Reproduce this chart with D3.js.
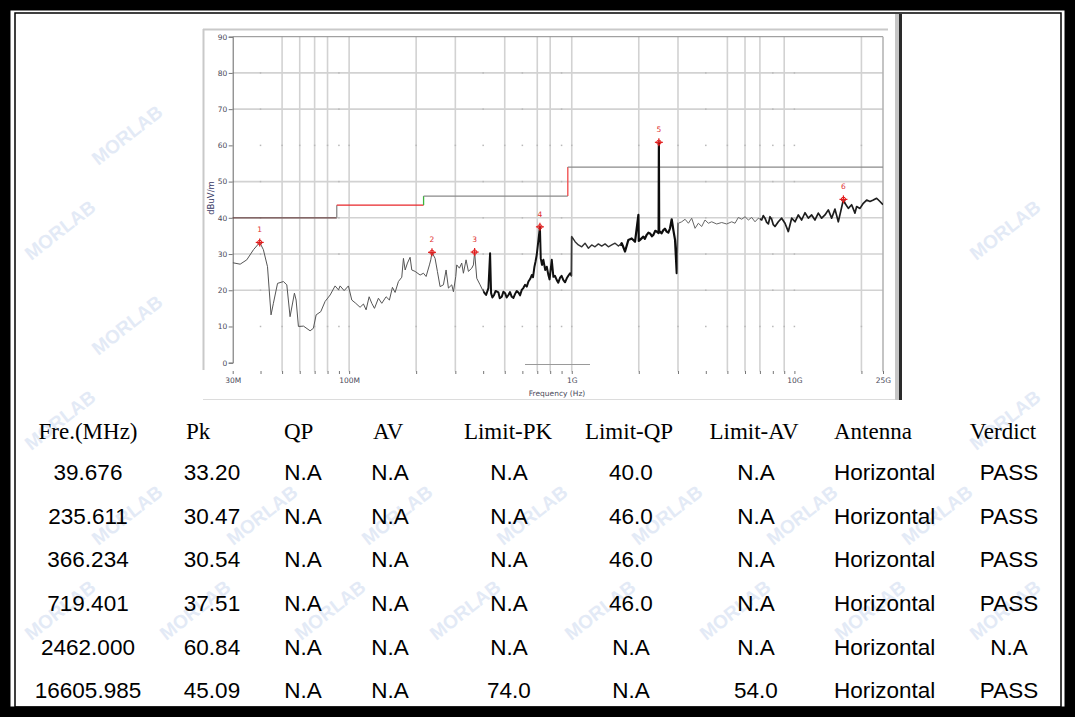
<!DOCTYPE html>
<html lang="en">
<head>
<meta charset="UTF-8">
<title>Radiated Emission 30MHz - 25GHz</title>
<script src="https://d3js.org/d3.v7.min.js"></script>
<style>
  html, body { margin: 0; padding: 0; background: #fff; }
  svg { display: block; }
</style>
</head>
<body>
<svg id="page" width="1075" height="717"></svg>
<script>
// spectrum trace (MHz, dBuV/m)
const traceFreq = [
  30, 32.4, 34.7, 37.2, 39.676, 41.2, 43, 44.6, 45.7, 47.7, 50.7, 52.5, 54.3, 56.8, 57.8, 59.2,
  62.4, 66.8, 69.1, 71.1, 74.6, 78, 82.2, 86.5, 89.6, 91.1, 95, 99.3, 102.8, 107.1, 112, 116,
  119.2, 123, 126.4, 130, 135.4, 140.2, 146.6, 151.7, 156.5, 160.9, 166.5, 172.4, 175.4, 178.5,
  182.8, 187.9, 191.2, 197.9, 208.4, 215.7, 221.7, 229.5, 232.7, 235.611, 243.3, 249.2, 256.2,
  265.2, 272.6, 279.3, 289.1, 294.1, 301.3, 304.4, 312.9, 320.5, 326.1, 335.2, 343.4, 355.5,
  361.7, 366.234, 374.4, 387.5, 401.1, 412.3, 422.3, 429.7, 434.2, 440, 447.9, 455, 468.4, 475,
  484.9, 493, 501.9, 510, 519.5, 528, 537.7, 547, 556.6, 566, 576.1, 586, 596.3, 606, 617.2, 628,
  638.9, 650, 661.3, 670, 679.8, 688, 696.3, 719.401, 725.7, 735, 745.7, 760, 772.2, 785.2, 795,
  813.3, 827, 840, 856.5, 870, 886.2, 900, 917, 933, 949.6, 965, 982.6, 998,
  1001, 1035, 1071, 1109, 1147, 1188, 1229, 1272, 1317, 1363, 1411, 1460, 1512, 1565, 1620,
  1677, 1735, 1796, 1859, 1924, 1992, 2000, 2026, 2097, 2130, 2171, 2210, 2247, 2290, 2326,
  2370, 2407, 2455, 2462, 2470, 2492, 2530, 2579, 2620, 2669, 2715, 2763, 2811, 2860, 2910,
  2961, 2985, 3013, 3118, 3228, 3341, 3457, 3579, 3704, 3834, 3968, 4107, 4251, 4477, 4714,
  4965, 5228, 5412, 5601, 5798, 6001, 6212, 6429, 6655, 6887, 7129, 7250, 7379, 7500, 7637,
  7770, 7905, 8040, 8182, 8469, 8766, 9073, 9391, 9721, 10062, 10414, 10779, 11157, 11548,
  11952, 12371, 12805, 13254, 13718, 14199, 14697, 15212, 15745, 16136, 16605.985, 16873,
  17464, 18077, 18710, 19037, 19703, 20394, 21109, 21849, 22614, 23406, 24226, 25000
];
const traceLevel = [
  27.6, 27.2, 28.4, 31.2, 33.2, 31.2, 26.5, 13.2, 16.4, 21.9, 22.4, 21.5, 12.7, 19.2, 17.3, 10,
  10.1, 8.8, 9.5, 13.2, 14.1, 16.9, 18.7, 21.2, 20.1, 21.2, 19.9, 21.2, 17.3, 16.4, 15.3, 16.2,
  14.6, 18.2, 16.4, 15, 17.8, 16.4, 18.2, 17.3, 20.8, 19.4, 22.4, 23.6, 28.8, 25.6,
  27.5, 29.1, 25.6, 25.2, 24.2, 24.7, 23.8, 27, 28.4, 30.47, 28.8, 25.2, 21,
  21.5, 25.6, 20.6, 21.5, 19.6, 23.8, 27, 26.1, 27.5, 24.7, 28.4, 25.2, 26.1,
  27, 30.54, 23.3, 21.5, 19.6, 18.7, 20.6, 30.2, 19.2, 18, 18.7, 19.8, 19.4, 17.8,
  18.2, 19.6, 19.2, 18, 18.7, 19.5, 18.2, 17.9, 19, 19.8, 19.4, 18.6, 20.1, 20.6, 21.5, 21,
  22.4, 23.1, 24.2, 23.6, 26.5, 28, 29.8, 37.51, 28.8, 27, 28.4, 25.6, 26.5, 24.2, 23,
  28.4, 23.7, 24, 22.8, 22.1, 23.5, 24, 22.8, 22.2, 23.3, 24, 24.7, 24,
  34.8, 33.4, 32.5, 32, 33, 31.6, 32.5, 32, 32.8, 32.2, 32.8, 32, 32.5, 33, 32.2,
  33, 30.7, 33.9, 34.3, 33.4, 40.8, 33.6, 33.9, 34.8, 34.2, 35.3, 35.9, 35.7, 34.9, 35.3,
  36.4, 36.2, 35.8, 60.84, 36, 36.2, 35.7, 36.6, 37, 36.2, 35.9, 37.1, 39.6, 36.6, 33.9,
  24.7, 30, 38.5, 38.9, 39.6, 38.5, 39.9, 37.1, 38.5, 37.6, 39.4, 38.5, 38.9, 38.3, 38.7,
  38.3, 38.9, 38.5, 40.1, 39.6, 40.3, 39.4, 40.1, 38.9, 39.9, 39.4, 40.6, 39.9, 38.8, 38.3,
  40.3, 39.6, 38.1, 37.6, 38.9, 39.9, 38.5, 36.2, 39.9, 38.9, 40.8, 39.4, 41.4, 39.9,
  40.8, 39.4, 41.3, 39.9, 40.8, 42.2, 39.9, 42.4, 38.9, 41.7, 45.09, 44,
  42.6, 43.6, 41.3, 43.1, 42.6, 44, 44.9, 44.5, 44.9, 45.4, 44.5, 43.6
];

// limit line corners
const limitFreq = [30, 88, 88, 216, 216, 960, 960, 25000];
const limitLevel = [40, 40, 43.5, 43.5, 46, 46, 54, 54];
const limitColor = ["#6a4444", "#888", "#e8262a", "#3cb43c", "#8a8a8a", "#f04848", "#8a8a8a"];

// marked peaks
const markerNo = [1, 2, 3, 4, 5, 6];
const markerFreq = [39.676, 235.611, 366.234, 719.401, 2462.000, 16605.985];
const markerLevel = [33.20, 30.47, 30.54, 37.51, 60.84, 45.09];

// grid
const gridFreq = [50, 60, 70, 80, 100, 200, 300, 500, 700, 800, 1000, 2000, 3000, 5000, 6000, 7000, 9000, 20000];
const dotFreq = [40, 90, 400, 600, 900, 4000, 8000, 10000];
const gridLevel = [20, 30, 40, 50, 70, 80];
const dotLevel = [10, 60];
const yTicks = [0, 10, 20, 30, 40, 50, 60, 70, 80, 90];
const xTickFreq = [30, 40, 50, 60, 70, 80, 90, 100, 200, 300, 400, 500, 600, 700, 800, 900, 1000,
  2000, 3000, 4000, 5000, 6000, 7000, 8000, 9000, 10000, 20000, 25000];
const xTickText = ["30M", "100M", "1G", "10G", "25G"];
const xTickTextFreq = [30, 100, 1000, 10000, 25000];

// table
const headers = ["Fre.(MHz)", "Pk", "QP", "AV", "Limit-PK", "Limit-QP", "Limit-AV", "Antenna", "Verdict"];
const rows = [
  ["39.676", "33.20", "N.A", "N.A", "N.A", "40.0", "N.A", "Horizontal", "PASS"],
  ["235.611", "30.47", "N.A", "N.A", "N.A", "46.0", "N.A", "Horizontal", "PASS"],
  ["366.234", "30.54", "N.A", "N.A", "N.A", "46.0", "N.A", "Horizontal", "PASS"],
  ["719.401", "37.51", "N.A", "N.A", "N.A", "46.0", "N.A", "Horizontal", "PASS"],
  ["2462.000", "60.84", "N.A", "N.A", "N.A", "N.A", "N.A", "Horizontal", "N.A"],
  ["16605.985", "45.09", "N.A", "N.A", "74.0", "N.A", "54.0", "Horizontal", "PASS"]
];

const svg = d3.select("#page");
svg.append("rect").attr("width", 1075).attr("height", 717).attr("fill", "#fff");

// faint watermark, only where it stays clear of the edges and the chart panel
const wm = svg.append("g").attr("fill", "#e3eaf6").attr("font-family", "Liberation Sans, Arial, sans-serif")
  .attr("font-weight", "bold").attr("font-size", 19);
for (let r = 0; r < 8; r++) {
  for (let c = 0; c < 9; c++) {
    const cx = 60 + c * 135 + (r % 2) * 67;
    const cy = 40 + r * 95;
    if (cx < 55 || cx > 1015 || cy < 55 || cy > 665) continue;
    if (cx + 42 > 203 && cx - 42 < 902 && cy - 36 < 400) continue;
    wm.append("text").attr("transform", `translate(${cx},${cy}) rotate(-38)`)
      .attr("text-anchor", "middle").attr("dy", "0.35em").text("MORLAB");
  }
}

// page border (thick + thin)
const border = svg.append("g");
border.append("rect").attr("x", 5).attr("y", 5).attr("width", 1065).attr("height", 707)
  .attr("fill", "none").attr("stroke", "#000").attr("stroke-width", 11);
border.append("rect").attr("x", 15).attr("y", 13).attr("width", 1046).attr("height", 694)
  .attr("fill", "none").attr("stroke", "#000").attr("stroke-width", 1.5);

// chart panel
const panel = svg.append("g");
panel.append("rect").attr("x", 203).attr("y", 29).attr("width", 693).attr("height", 371).attr("fill", "#fff");
panel.append("line").attr("x1", 203).attr("x2", 888).attr("y1", 29.5).attr("y2", 29.5)
  .attr("stroke", "#c9c9c9").attr("stroke-width", 2);
panel.append("line").attr("x1", 203.5).attr("x2", 203.5).attr("y1", 29).attr("y2", 370)
  .attr("stroke", "#c9c9c9").attr("stroke-width", 2);
panel.append("line").attr("x1", 203).attr("x2", 897).attr("y1", 399.5).attr("y2", 399.5)
  .attr("stroke", "#dcdcdc").attr("stroke-width", 1);
panel.append("rect").attr("x", 895).attr("y", 14).attr("width", 4).attr("height", 386).attr("fill", "#c6c6c6");
panel.append("rect").attr("x", 899).attr("y", 14).attr("width", 3).attr("height", 386).attr("fill", "#2a2a2a");

const x = d3.scaleLog().domain([30, 25000]).range([232.7, 883]);
const y = d3.scaleLinear().domain([0, 90]).range([362.7, 36.7]);

const plot = svg.append("g");

// grid lines
plot.selectAll(".vgrid").data(gridFreq).join("line")
  .attr("x1", d => x(d)).attr("x2", d => x(d)).attr("y1", y(90)).attr("y2", 371.5)
  .attr("stroke", "#d2d2d2").attr("stroke-width", 1.6);
plot.selectAll(".hgrid").data(gridLevel).join("line")
  .attr("x1", x(30)).attr("x2", x(25000)).attr("y1", d => y(d)).attr("y2", d => y(d))
  .attr("stroke", "#d2d2d2").attr("stroke-width", 1.6);
const dots = [];
dotFreq.forEach(f => yTicks.slice(1, 9).forEach(v => dots.push([f, v])));
dotLevel.forEach(v => gridFreq.forEach(f => dots.push([f, v])));
plot.selectAll(".dot").data(dots).join("rect")
  .attr("x", d => x(d[0]) - 0.75).attr("y", d => y(d[1]) - 0.75)
  .attr("width", 1.5).attr("height", 1.5).attr("fill", "#b8b8b8");

// frame
plot.append("line").attr("x1", x(30)).attr("x2", x(25000)).attr("y1", y(90)).attr("y2", y(90))
  .attr("stroke", "#8c8c8c");
plot.append("line").attr("x1", x(25000)).attr("x2", x(25000)).attr("y1", y(90)).attr("y2", 371.5)
  .attr("stroke", "#b0b0b0").attr("stroke-width", 1.5);
plot.append("line").attr("x1", 525).attr("x2", 590).attr("y1", 364.5).attr("y2", 364.5)
  .attr("stroke", "#9a9a9a");

// y axis
const yAxis = plot.append("g").attr("transform", `translate(${x(30)},0)`)
  .call(d3.axisLeft(y).tickValues(yTicks).tickSize(4).tickPadding(1.5));
yAxis.select(".domain").attr("stroke", "#666");
yAxis.selectAll(".tick line").attr("stroke", "#777");
yAxis.selectAll("text").attr("font-family", "DejaVu Sans, sans-serif").attr("font-size", 7.5).attr("fill", "#4a4a5a");

plot.append("text").attr("transform", "translate(214,198) rotate(-90)")
  .attr("text-anchor", "middle").attr("font-family", "DejaVu Sans, sans-serif")
  .attr("font-size", 8.5).attr("fill", "#3a3a66").text("dBuV/m");

// x axis
const labelOf = new Map(xTickTextFreq.map((f, i) => [f, xTickText[i]]));
const xAxis = plot.append("g").attr("transform", "translate(0,371)")
  .call(d3.axisBottom(x).tickValues(xTickFreq).tickSize(3).tickPadding(4)
    .tickFormat(d => labelOf.get(d) || ""));
xAxis.select(".domain").remove();
xAxis.selectAll(".tick line").attr("stroke", "#777");
xAxis.selectAll("text").attr("font-family", "DejaVu Sans, sans-serif").attr("font-size", 7.5).attr("fill", "#4a4a5a");

plot.append("text").attr("x", 557).attr("y", 396).attr("text-anchor", "middle")
  .attr("font-family", "DejaVu Sans, sans-serif").attr("font-size", 7.5).attr("fill", "#4a4a5a")
  .text("Frequency (Hz)");

// limit line
const limitPts = limitFreq.map((f, i) => [f, limitLevel[i]]);
plot.selectAll(".limit").data(d3.pairs(limitPts)).join("line")
  .attr("x1", d => x(d[0][0])).attr("y1", d => y(d[0][1]))
  .attr("x2", d => x(d[1][0])).attr("y2", d => y(d[1][1]))
  .attr("stroke", (d, i) => limitColor[i]).attr("stroke-width", 1.3);

// trace, drawn in bands (dense sweeps look heavier)
const bands = [
  { from: 30, to: 400, w: 1, c: "#555" },
  { from: 400, to: 1000, w: 2, c: "#111" },
  { from: 1000, to: 1650, w: 1.4, c: "#333" },
  { from: 1650, to: 2990, w: 2.2, c: "#0d0d0d" },
  { from: 2990, to: 7000, w: 1, c: "#666" },
  { from: 7000, to: 25000, w: 1.7, c: "#1e1e1e" }
];
const tracePts = traceFreq.map((f, i) => [f, traceLevel[i]]);
const line = d3.line().x(d => x(d[0])).y(d => y(d[1]));
const defs = svg.append("defs");
bands.forEach((b, i) => {
  defs.append("clipPath").attr("id", "band" + i).append("rect")
    .attr("x", x(b.from)).attr("y", 0).attr("width", x(b.to) - x(b.from)).attr("height", 400);
  plot.append("path").datum(tracePts).attr("d", line).attr("fill", "none")
    .attr("stroke", b.c).attr("stroke-width", b.w).attr("stroke-linejoin", "round")
    .attr("clip-path", `url(#band${i})`);
});

// markers
const mk = plot.selectAll(".mk").data(markerNo).join("g")
  .attr("transform", (d, i) => `translate(${x(markerFreq[i])},${y(markerLevel[i])})`);
mk.append("line").attr("x1", -4).attr("x2", 4).attr("stroke", "#e31c1c").attr("stroke-width", 1.2);
mk.append("line").attr("y1", -4).attr("y2", 4).attr("stroke", "#e31c1c").attr("stroke-width", 1.2);
mk.append("circle").attr("r", 2.2).attr("fill", "none").attr("stroke", "#e31c1c").attr("stroke-width", 1);
mk.append("text").attr("y", -10).attr("text-anchor", "middle")
  .attr("font-family", "DejaVu Sans, sans-serif").attr("font-size", 7.5).attr("fill", "#e03030")
  .text(d => d);

// table
const headX = [88, 186, 284, 373, 508, 629, 754, 834, 1003];
const headAnchor = ["middle", "start", "start", "start", "middle", "middle", "middle", "start", "middle"];
const cellX = [88, 212, 303, 390, 509, 631, 756, 834, 1009];
const cellAnchor = ["middle", "middle", "middle", "middle", "middle", "middle", "middle", "start", "middle"];
const headY = 438.5, rowY0 = 480, rowStep = 43.67;

const table = svg.append("g");
table.selectAll(".hd").data(headers).join("text")
  .attr("x", (d, i) => headX[i]).attr("y", headY).attr("text-anchor", (d, i) => headAnchor[i])
  .attr("font-family", "Liberation Serif, Times New Roman, serif").attr("font-size", 23).attr("fill", "#000")
  .text(d => d);
rows.forEach((r, ri) => {
  table.selectAll(".r" + ri).data(r).join("text")
    .attr("x", (d, i) => cellX[i]).attr("y", rowY0 + ri * rowStep).attr("text-anchor", (d, i) => cellAnchor[i])
    .attr("font-family", "Liberation Sans, Arial, sans-serif").attr("font-size", 22.5).attr("fill", "#000")
    .text(d => d);
});
</script>
</body>
</html>
